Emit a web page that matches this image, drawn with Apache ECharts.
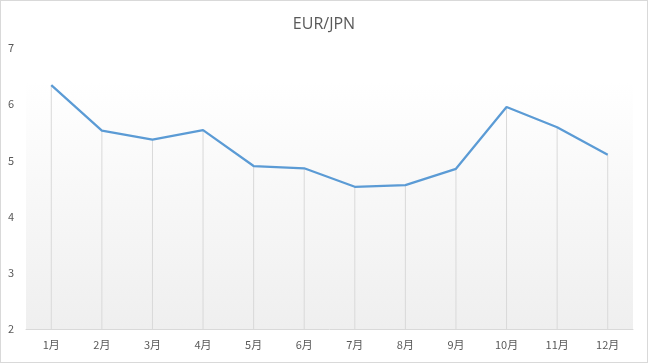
<!DOCTYPE html>
<html><head><meta charset="utf-8">
<script src="https://cdn.jsdelivr.net/npm/echarts@6/dist/echarts.min.js"></script>
<style>
html,body{margin:0;padding:0;background:#fff;}
#c{position:absolute;left:0;top:0;width:646px;height:361px;border:1px solid #d9d9d9;}
</style></head>
<body><div id="c"></div>
<script>
const titleText = 'EUR/JPN';
const categories = ['1月','2月','3月','4月','5月','6月','7月','8月','9月','10月','11月','12月'];
const values = [6.34, 5.53, 5.37, 5.54, 4.90, 4.86, 4.53, 4.56, 4.85, 5.95, 5.59, 5.10];
const yTicks = [2, 3, 4, 5, 6, 7];

const chart = echarts.init(document.getElementById('c'));
const font = '"Noto Sans CJK JP", "Open Sans", sans-serif';
chart.setOption({
  animation: false,
  title: {text: titleText, left: 'center', top: 10,
    textStyle: {fontFamily: '"Open Sans", sans-serif', fontSize: 16, fontWeight: 'normal', color: '#595959'}},
  grid: {left: 25, right: 14, top: 47, bottom: 33, show: true, borderWidth: 0,
    containLabel: false, outerBoundsMode: 'none',
    backgroundColor: {type: 'linear', x: 0, y: 0, x2: 0, y2: 1,
      colorStops: [{offset: 0, color: '#ffffff'}, {offset: 0.12, color: '#ffffff'}, {offset: 1, color: '#efefef'}]}},
  xAxis: {type: 'category', data: categories, boundaryGap: true,
    axisLine: {lineStyle: {color: '#d9d9d9', width: 1}},
    axisTick: {show: false},
    axisLabel: {color: '#595959', fontSize: 11, fontFamily: font, margin: 10}},
  yAxis: {type: 'value', min: yTicks[0], max: yTicks[yTicks.length - 1], interval: 1,
    axisLine: {show: false}, axisTick: {show: false}, splitLine: {show: false},
    axisLabel: {color: '#595959', fontSize: 11, fontFamily: font, margin: 12}},
  series: [
    {type: 'bar', data: values, barWidth: 1, itemStyle: {color: '#d9d9d9'}, silent: true, z: 1},
    {type: 'line', data: values, showSymbol: false, symbol: 'none',
      lineStyle: {color: '#5b9bd5', width: 2.25}, z: 3}
  ]
});
</script></body></html>
